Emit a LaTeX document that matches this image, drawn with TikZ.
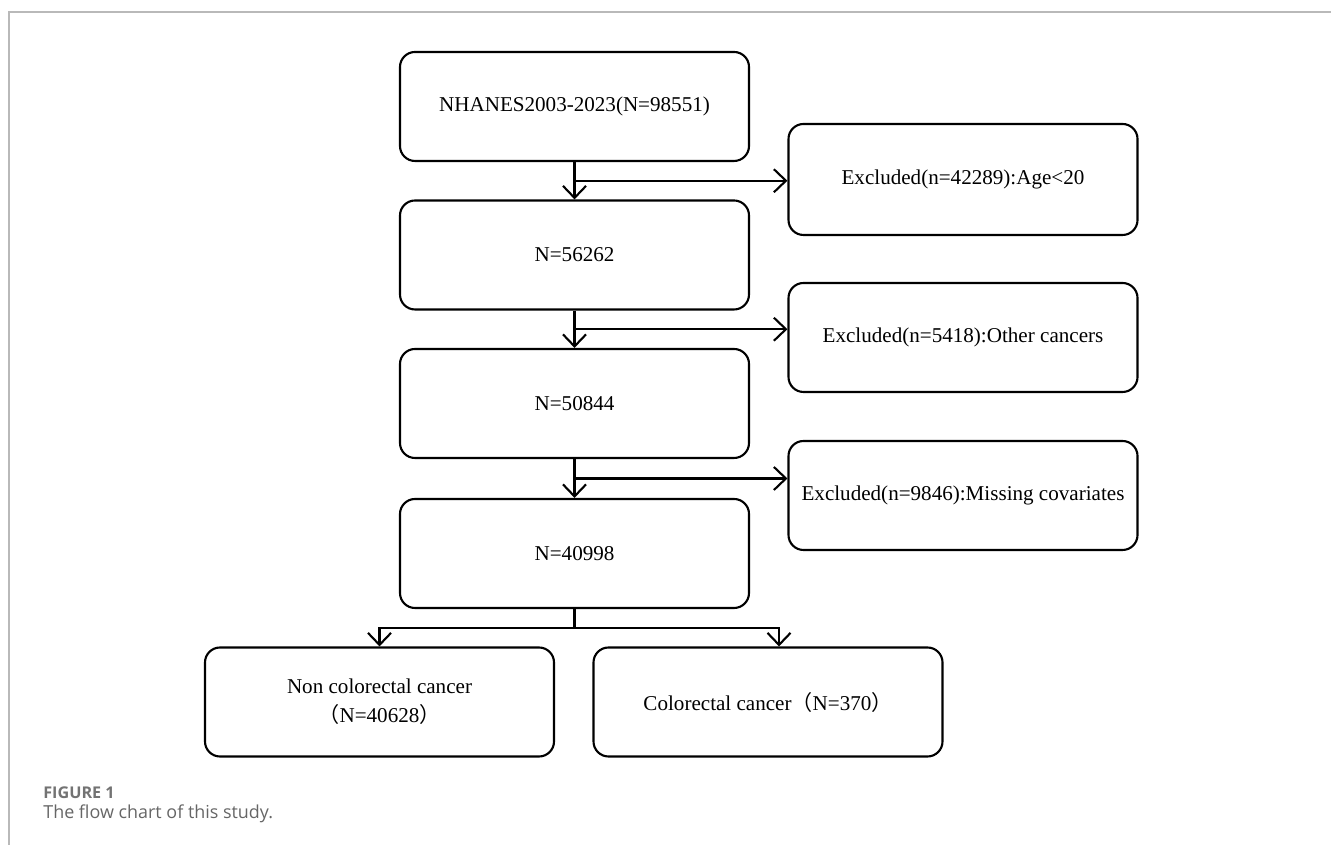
\documentclass[tikz,border=0pt]{standalone}
\usepackage{fontspec}
\setmainfont{Liberation Serif}
\newfontfamily\capfont{Open Sans}
\newfontfamily\cjk{Noto Sans CJK SC}
\usetikzlibrary{arrows.meta,calc}

\begin{document}
\begin{tikzpicture}[
        box/.style={draw,line width=1.2pt,rounded corners=0.3cm,minimum width=6.98cm,minimum height=2.18cm,align=center,font=\fontsize{12}{16.5}\selectfont},
        arr/.style={line width=1.2pt,-{Straight Barb[length=2.4mm,width=4.6mm,line width=1.2pt]}},
        link/.style={line width=1.2pt}
    ]
        % Background
        \useasboundingbox (0,0) rectangle (26.62,16.9);
        \draw[draw=none,fill=white] (0,0) rectangle (26.62,16.9);
        \draw[gray!55,line width=1pt] (0.18,0) -- (0.18,16.66) -- (26.62,16.66);

        % Main boxes
        \node[box] (src) at (11.49,14.77) {NHANES2003-2023(N=98551)};
        \node[box] (n1) at (11.49,11.8) {N=56262};
        \node[box] (n2) at (11.49,8.83) {N=50844};
        \node[box] (n3) at (11.49,5.83) {N=40998};

        % Excluded
        \node[box,minimum height=2.22cm] (ex1) at (19.26,13.31) {Excluded(n=42289):Age\textless20};
        \node[box] (ex2) at (19.26,10.15) {Excluded(n=5418):Other cancers};
        \node[box,inner sep=0pt] (ex3) at (19.26,6.99) {Excluded(n=9846):Missing covariates};

        % Groups
        \node[box] (non) at (7.59,2.86) {Non colorectal cancer\\{\cjk （}N=40628{\cjk ）}};
        \node[box] (crc) at (15.36,2.86) {Colorectal cancer{\cjk （}N=370{\cjk ）}};

        % Flow
        \coordinate (m1) at ($(src.south)!0.5!(n1.north)$);
        \coordinate (m2) at ($(n1.south)!0.5!(n2.north)$);
        \coordinate (m3) at ($(n2.south)!0.5!(n3.north)$);
        \draw[arr] (src) -- (n1);
        \draw[arr] (n1) -- (n2);
        \draw[arr] (n2) -- (n3);
        \draw[arr] (m1) -- (m1 -| ex1.west);
        \draw[arr] (m2) -- (m2 -| ex2.west);
        \draw[arr] (m3) -- (m3 -| ex3.west);

        % Split
        \coordinate (split) at (11.49,4.34);
        \draw[link] (n3.south) -- (split);
        \draw[arr] (split) -| (non.north);
        \draw[arr] (split) -| ([xshift=0.22cm]crc.north);

        % Caption
        \node[anchor=base west,inner sep=0pt,text=black!55,font=\capfont\bfseries\fontsize{9.2}{11}\selectfont] (figlbl) at (0.86,0.92) {FIGURE 1};
        \node[anchor=base west,inner sep=0pt,text=black!60,font=\capfont\fontsize{10.2}{12}\selectfont] (figcap) at (0.86,0.52) {The flow chart of this study.};
    \end{tikzpicture}
\end{document}
